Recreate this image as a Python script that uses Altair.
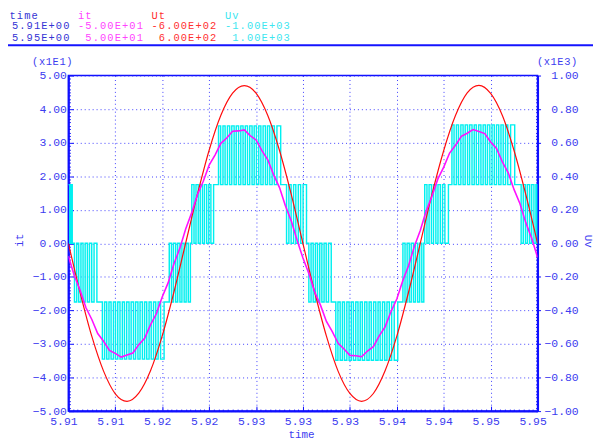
import altair as alt
import pandas as pd

# ---------------- data ----------------
T0 = 5.91            # s, left end of the time axis
T1 = 5.95            # s, right end of the time axis

# Ut  [V], sampled every 1 ms after 5.91 s
ut_ms = list(range(0, 41))
ut_volts = [0, -176, -333, -457, -538, -565, -536, -456, -331, -174,
            1, 175, 333, 458, 537, 564, 537, 457, 332, 175,
            -1, -175, -332, -458, -537, -565, -537, -456, -332, -175,
            0, 176, 332, 457, 538, 565, 536, 457, 331, 174, 0]

# it  [A], sampled every 0.5 ms after 5.91 s
it_ms = [k * 0.5 for k in range(81)]
it_amps = [-3.8, -9.6, -14.0, -19.2, -22.7, -26.9, -29.2, -31.9, -32.8, -33.9,
           -33.3, -32.7, -30.2, -28.3, -24.3, -21.0, -16.0, -11.8, -6.1, -1.5,
           4.3, 9.0, 14.5, 18.5, 23.3, 26.3, 29.8, 31.4, 33.4, 33.5,
           33.8, 32.1, 30.8, 27.6, 24.9, 20.4, 16.6, 11.2, 6.7, 0.9,
           -4.4, -9.0, -14.5, -18.5, -23.3, -26.3, -29.8, -31.5, -33.4, -33.5,
           -33.8, -32.1, -30.8, -27.6, -24.9, -20.4, -16.6, -11.2, -6.7, -0.9,
           3.8, 9.6, 14.0, 19.2, 22.7, 26.9, 29.2, 31.9, 32.8, 33.9,
           33.3, 32.7, 30.2, 28.3, 24.3, 21.0, 16.0, 11.8, 6.1, 1.5, -4.2]

# Uv [V]: PWM switching edges (ms after 5.91 s); level after odd / even edges
uv_start_level = 350
uv_segments = [
    # (level after 1st edge, level after 2nd edge, edge times in ms)
    (0, 350, [0.12, 0.22, 0.33]),
    (-350, 0, [0.52, 0.71, 0.88, 1.07, 1.25, 1.43, 1.62, 1.80, 1.99, 2.19, 2.43]),
    (-690, -350, [2.90, 3.09, 3.27, 3.46, 3.64, 3.84, 4.02, 4.21, 4.40, 4.60,
                  4.78, 4.97, 5.17, 5.35, 5.55, 5.73, 5.93, 6.11, 6.31, 6.50,
                  6.68, 6.88, 7.06, 7.26, 7.45, 7.65, 7.86, 8.16]),
    (0, -350, [8.60, 8.79, 8.96, 9.15, 9.32, 9.51, 9.68, 9.87, 10.04, 10.22, 10.40]),
    (350, 0, [10.52, 10.71, 10.88, 11.07, 11.24, 11.43, 11.60, 11.79, 11.97, 12.15, 12.38]),
    (700, 350, [12.80, 12.98, 13.18, 13.36, 13.56, 13.75, 13.93, 14.13, 14.31, 14.51,
                14.70, 14.89, 15.08, 15.27, 15.46, 15.66, 15.84, 16.03, 16.23, 16.41,
                16.60, 16.80, 16.98, 17.17, 17.37, 17.56, 17.78, 18.10]),
    (0, 350, [18.60, 18.80, 18.99, 19.20, 19.39, 19.60, 19.80, 20.01, 20.30]),
    (-350, 0, [20.50, 20.69, 20.87, 21.06, 21.24, 21.43, 21.61, 21.80, 21.98, 22.18, 22.41]),
    (-697, -350, [22.80, 22.98, 23.17, 23.36, 23.54, 23.74, 23.93, 24.12, 24.30, 24.50,
                  24.69, 24.88, 25.06, 25.26, 25.45, 25.64, 25.82, 26.02, 26.21, 26.40,
                  26.58, 26.78, 26.97, 27.16, 27.36, 27.56, 27.78, 28.08]),
    (0, -350, [28.52, 28.70, 28.88, 29.06, 29.23, 29.42, 29.59, 29.78, 29.95, 30.13, 30.30]),
    (350, 0, [30.38, 30.57, 30.75, 30.95, 31.13, 31.33, 31.51, 31.71, 31.90, 32.10, 32.40]),
    (706, 350, [32.70, 32.88, 33.08, 33.26, 33.46, 33.65, 33.83, 34.03, 34.21, 34.41,
                34.60, 34.78, 34.98, 35.17, 35.36, 35.55, 35.73, 35.93, 36.12, 36.31,
                36.50, 36.69, 36.88, 37.07, 37.27, 37.46, 37.70, 38.05]),
    (0, 350, [38.60, 38.78, 38.97, 39.14, 39.33, 39.50, 39.69, 39.86, 39.96]),
]

# axis ticks
x_ticks = [5.910, 5.914, 5.918, 5.922, 5.926, 5.930, 5.934, 5.938, 5.942, 5.946, 5.950]
it_ticks = [-50, -40, -30, -20, -10, 0, 10, 20, 30, 40, 50]
uv_ticks = [-1000, -800, -600, -400, -200, 0, 200, 400, 600, 800, 1000]

# header block (channel name, minimum, maximum)
hdr_names = ["time", "it", "Ut", "Uv"]
hdr_min = [" 5.91E+00", "-5.00E+01", "-6.00E+02", "-1.00E+03"]
hdr_max = [" 5.95E+00", " 5.00E+01", " 6.00E+02", " 1.00E+03"]
hdr_colors = ["#3434d4", "#ff44ff", "#ff3030", "#3ce6f0"]
scale_notes = ["(x1E1)", "(x1E3)"]

# ---------------- tables ----------------
ut_df = pd.DataFrame({"t": [T0 + m / 1000 for m in ut_ms], "v": ut_volts})
it_df = pd.DataFrame({"t": [T0 + m / 1000 for m in it_ms], "v": it_amps})

uv_t, uv_v = [T0], [uv_start_level]
for lvl_a, lvl_b, edges in uv_segments:
    for i, e in enumerate(edges):
        uv_t.append(T0 + e / 1000)
        uv_v.append(lvl_a if i % 2 == 0 else lvl_b)
uv_t.append(T1)
uv_v.append(uv_v[-1])
uv_df = pd.DataFrame({"t": uv_t, "v": uv_v})

# ---------------- layout ----------------
W, H = 474, 339
PAD_L, PAD_T = 61, 66
FONT = "Liberation Mono"
AX_BLUE = "#3c3cf0"
FRAME = "#1010ff"


def char_cells(s, x_left, y_base, cell, color, rows):
    """one text item per character cell (fixed-pitch header font)"""
    for i, ch in enumerate(s):
        if ch != " ":
            rows.append({"text": ch, "px": x_left + (i + 0.5) * cell,
                         "py": y_base, "color": color})


hdr_rows = []
CW = 7.4
row_base = [-57.3, -46.7, -35.2]
for c in range(4):
    x0 = -65 + 74.2 * c
    name_x = x0 + (5 if c == 0 else 0)
    char_cells(hdr_names[c], name_x, row_base[0], CW, hdr_colors[c], hdr_rows)
    char_cells(hdr_min[c], x0, row_base[1], CW, hdr_colors[c], hdr_rows)
    char_cells(hdr_max[c], x0, row_base[2], CW, hdr_colors[c], hdr_rows)
char_cells(scale_notes[0], -37, -10.7, 6.9, AX_BLUE, hdr_rows)
char_cells(scale_notes[1], 473, -10.7, 6.9, AX_BLUE, hdr_rows)
hdr_df = pd.DataFrame(hdr_rows)

xscale = alt.Scale(domain=[T0, T1], nice=False, zero=False)

uv_layer = alt.Chart(uv_df).mark_line(
    color="#00f0f0", strokeWidth=1.45, interpolate="step-after", clip=True
).encode(
    x=alt.X("t:Q", scale=xscale, axis=None),
    y=alt.Y("v:Q", scale=alt.Scale(domain=[-1000, 1000], nice=False),
            axis=alt.Axis(orient="right", values=uv_ticks,
                          labelExpr="format(datum.value/1000,'.2f')",
                          title="Uv", titleAngle=90, titleX=50, titleY=167,
                          titleBaseline="middle", titleAlign="center",
                          grid=False, tickSize=3, labelAlign="right",
                          labelPadding=38, labelBaseline="middle")),
)

ut_layer = alt.Chart(ut_df).mark_line(
    color="#ff0c0c", strokeWidth=1.2, interpolate="monotone", clip=True
).encode(
    x=alt.X("t:Q", scale=xscale, axis=None),
    y=alt.Y("v:Q", scale=alt.Scale(domain=[-600, 600], nice=False), axis=None),
)

it_layer = alt.Chart(it_df).mark_line(
    color="#ff10ff", strokeWidth=1.6, clip=True
).encode(
    x=alt.X("t:Q", scale=xscale,
            axis=alt.Axis(values=x_ticks, format=".2f", title="time",
                          grid=True, tickSize=0, labelPadding=5,
                          labelOffset=-5, labelFlush=False,
                          titleX=235, titleY=23.5, titleBaseline="middle",
                          titleAlign="center")),
    y=alt.Y("v:Q", scale=alt.Scale(domain=[-50, 50], nice=False),
            axis=alt.Axis(orient="left", values=it_ticks,
                          labelExpr="format(datum.value/10,'.2f')",
                          title="it", titleAngle=270, titleX=-49, titleY=166,
                          titleBaseline="middle", titleAlign="center",
                          grid=True, tickSize=0, labelPadding=2,
                          labelBaseline="middle")),
)

# inward "ruler" ticks along the frame (axes turned inside with a negative offset)
ms_minor = [k * 0.4 for k in range(101)]
amp_minor = list(range(-50, 51))
major_x = {"condition": {"test": "abs(datum.value/4 - round(datum.value/4)) < 0.01", "value": 5}, "value": 2}
major_y = {"condition": {"test": "datum.value % 10 === 0", "value": 5}, "value": 2}
anchor = pd.DataFrame({"ms": [0], "a": [0]})

ruler_bottom = alt.Chart(anchor).mark_point(opacity=0).encode(
    x=alt.X("ms:Q", scale=alt.Scale(domain=[0, 40], nice=False),
            axis=alt.Axis(orient="top", offset=-H, values=ms_minor, labels=False,
                          domain=False, grid=False, title=None, tickSize=major_x,
                          tickColor=FRAME, tickWidth=1)),
    y=alt.Y("a:Q", scale=alt.Scale(domain=[-50, 50]), axis=None),
)
ruler_left = alt.Chart(anchor).mark_point(opacity=0).encode(
    x=alt.X("ms:Q", scale=alt.Scale(domain=[0, 40], nice=False), axis=None),
    y=alt.Y("a:Q", scale=alt.Scale(domain=[-50, 50], nice=False),
            axis=alt.Axis(orient="right", offset=-W, values=amp_minor, labels=False,
                          domain=False, grid=False, title=None, tickSize=major_y,
                          tickColor=FRAME, tickWidth=1)),
)
ruler_right = alt.Chart(anchor).mark_point(opacity=0).encode(
    x=alt.X("ms:Q", scale=alt.Scale(domain=[0, 40], nice=False), axis=None),
    y=alt.Y("a:Q", scale=alt.Scale(domain=[-50, 50], nice=False),
            axis=alt.Axis(orient="left", offset=-W, values=amp_minor, labels=False,
                          domain=False, grid=False, title=None, tickSize=2,
                          tickColor=FRAME, tickWidth=1)),
)

hdr_layer = alt.Chart(hdr_df).mark_text(
    align="center", baseline="alphabetic", font=FONT, fontSize=10.5
).encode(
    x=alt.X("px:Q", scale=None, axis=None),
    y=alt.Y("py:Q", scale=None, axis=None),
    text="text:N",
    color=alt.Color("color:N", scale=None, legend=None),
)

sep_layer = alt.Chart(pd.DataFrame({"k": [0]})).mark_rule(
    color="#1414ff", strokeWidth=2
).encode(x=alt.value(-PAD_L), x2=alt.value(530), y=alt.value(-30.5))

chart = alt.layer(
    uv_layer, ut_layer, it_layer, ruler_bottom, ruler_left, ruler_right,
    hdr_layer, sep_layer
).resolve_scale(
    x="independent", y="independent"
).properties(
    width=W, height=H,
    autosize=alt.AutoSizeParams(type="none"),
    padding={"left": PAD_L, "top": PAD_T, "right": 56, "bottom": 32},
    background="white",
).configure_view(
    stroke=FRAME, strokeWidth=1.5
).configure_axis(
    domainColor=FRAME, domainWidth=2,
    labelFont=FONT, labelFontSize=11.5, labelColor=AX_BLUE,
    titleFont=FONT, titleFontSize=11, titleColor=AX_BLUE, titleFontWeight="normal",
    gridColor="#2a2aff", gridDash=[1, 3], gridWidth=1, gridOpacity=0.9,
    tickColor=FRAME,
)

chart.save("out.html", embed_options={"renderer": "svg", "actions": False})
